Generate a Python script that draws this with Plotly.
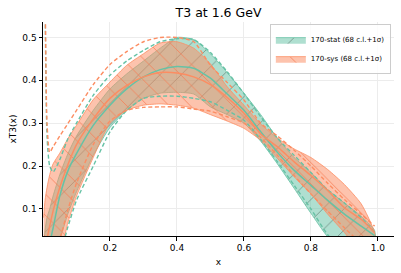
import plotly.graph_objects as go

x = [0.002, 0.006, 0.012, 0.02, 0.03, 0.05, 0.075, 0.1, 0.15, 0.2, 0.25, 0.3, 0.35, 0.4,
     0.45, 0.5, 0.55, 0.6, 0.65, 0.7, 0.75, 0.8, 0.85, 0.9, 0.95, 0.99]

# 170-stat
stat_mid = [0.0, 0.0, 0.0, 0.02, 0.055, 0.13, 0.19, 0.229, 0.295, 0.342, 0.38, 0.408, 0.425, 0.432,
            0.428, 0.405, 0.368, 0.33, 0.28, 0.232, 0.19, 0.155, 0.12, 0.088, 0.06, 0.038]
stat_hi68 = [0.02, 0.05, 0.08, 0.1, 0.13, 0.18, 0.23, 0.27, 0.33, 0.38, 0.415, 0.445, 0.475, 0.5,
             0.495, 0.462, 0.418, 0.37, 0.32, 0.265, 0.22, 0.185, 0.145, 0.114, 0.083, 0.05]
stat_lo68 = [0.0, 0.0, 0.0, 0.0, 0.0, 0.03, 0.09, 0.14, 0.225, 0.29, 0.33, 0.358, 0.37, 0.372,
             0.368, 0.338, 0.32, 0.3, 0.258, 0.205, 0.148, 0.09, 0.035, 0.0, 0.0, 0.0]
stat_up1s = [1.0, 0.6, 0.27, 0.2, 0.186, 0.215, 0.265, 0.3, 0.365, 0.412, 0.445, 0.47, 0.49, 0.497,
             0.495, 0.465, 0.42, 0.369, 0.315, 0.265, 0.225, 0.185, 0.145, 0.114, 0.08, 0.045]
stat_dn1s = [0.0, 0.0, 0.0, 0.0, 0.0, 0.0, 0.06, 0.12, 0.2, 0.28, 0.33, 0.358, 0.363, 0.363,
             0.358, 0.35, 0.33, 0.307, 0.262, 0.21, 0.155, 0.1, 0.04, 0.0, 0.0, 0.0]

# 170-sys
sys_mid = [0.0, 0.0, 0.03, 0.06, 0.095, 0.15, 0.205, 0.25, 0.31, 0.358, 0.388, 0.408, 0.418, 0.417,
           0.408, 0.39, 0.36, 0.323, 0.275, 0.245, 0.21, 0.178, 0.143, 0.103, 0.076, 0.045]
sys_hi68 = [0.08, 0.12, 0.15, 0.18, 0.205, 0.23, 0.265, 0.295, 0.355, 0.396, 0.435, 0.462, 0.487, 0.49,
            0.475, 0.438, 0.385, 0.342, 0.298, 0.265, 0.24, 0.22, 0.192, 0.157, 0.112, 0.045]
sys_lo68 = [0.0, 0.0, 0.0, 0.0, 0.0, 0.0, 0.07, 0.13, 0.22, 0.3, 0.33, 0.342, 0.345, 0.342,
            0.335, 0.32, 0.305, 0.288, 0.26, 0.218, 0.175, 0.135, 0.088, 0.045, 0.0, 0.0]
sys_up1s = [1.0, 0.65, 0.3, 0.232, 0.245, 0.27, 0.3, 0.33, 0.39, 0.437, 0.467, 0.49, 0.5, 0.5,
            0.49, 0.435, 0.395, 0.354, 0.3, 0.27, 0.237, 0.2, 0.16, 0.122, 0.088, 0.06]
sys_dn1s = [0.0, 0.0, 0.0, 0.0, 0.0, 0.03, 0.1, 0.16, 0.25, 0.305, 0.33, 0.337, 0.338, 0.338,
            0.333, 0.328, 0.315, 0.3, 0.267, 0.225, 0.178, 0.135, 0.095, 0.056, 0.02, 0.0]

names = ["170-stat (68 c.l.+1σ)", "170-sys (68 c.l.+1σ)"]
colors = ["#66c2a5", "#fc8d62"]
fills = ["rgba(102,194,165,0.52)", "rgba(252,141,98,0.52)"]
hatch_fg = ["rgba(80,100,90,0.6)", "rgba(245,125,85,0.85)"]
shapes = ["/", "\\"]

sets = [
    (stat_mid, stat_hi68, stat_lo68, stat_up1s, stat_dn1s),
    (sys_mid, sys_hi68, sys_lo68, sys_up1s, sys_dn1s),
]

fig = go.Figure()
for i, (mid, hi, lo, up, dn) in enumerate(sets):
    fig.add_trace(go.Scatter(
        x=x + x[::-1], y=hi + lo[::-1], mode="lines",
        line=dict(color=colors[i], width=0.8, shape="spline", smoothing=0.6),
        fill="toself", fillcolor=fills[i],
        fillpattern=dict(shape=shapes[i], fgcolor=hatch_fg[i], bgcolor=fills[i],
                         size=15, solidity=0.06, fillmode="replace"),
        name=names[i], showlegend=True, hoverinfo="skip"))
for i, (mid, hi, lo, up, dn) in enumerate(sets):
    fig.add_trace(go.Scatter(x=x, y=mid, mode="lines",
                             line=dict(color=colors[i], width=1.5, shape="spline", smoothing=0.6),
                             showlegend=False))
    for arr in (up, dn):
        fig.add_trace(go.Scatter(x=x, y=arr, mode="lines",
                                 line=dict(color=colors[i], width=1.4, dash="4px,2.5px",
                                           shape="spline", smoothing=0.6),
                                 showlegend=False))

fig.update_layout(
    width=401, height=273,
    margin=dict(l=43, r=7, t=22, b=37),
    paper_bgcolor="white", plot_bgcolor="white",
    font=dict(family="DejaVu Sans", size=9, color="black"),
    title=dict(text="T3 at 1.6 GeV", x=0.545, xanchor="center", y=0.955, yanchor="middle",
               font=dict(size=12.5, family="DejaVu Sans")),
    legend=dict(x=0.991, y=0.99, xanchor="right", yanchor="top",
                bgcolor="rgba(255,255,255,0.85)", bordercolor="#cccccc", borderwidth=1,
                font=dict(size=7), itemwidth=30, tracegroupgap=0),
    showlegend=True,
)
fig.update_xaxes(range=[0.0, 1.048], tickvals=[0.2, 0.4, 0.6, 0.8, 1.0],
                 ticktext=["0.2", "0.4", "0.6", "0.8", "1.0"],
                 showline=True, linecolor="black", linewidth=1, ticks="outside", ticklen=3.5,
                 tickcolor="black", showgrid=True, gridcolor="#ececec", gridwidth=0.6,
                 zeroline=False, title=dict(text="x", standoff=6, font=dict(size=9)),
                 tickfont=dict(size=9))
fig.update_yaxes(range=[0.037, 0.536], tickvals=[0.1, 0.2, 0.3, 0.4, 0.5],
                 ticktext=["0.1", "0.2", "0.3", "0.4", "0.5"],
                 showline=True, linecolor="black", linewidth=1, ticks="outside", ticklen=3.5,
                 tickcolor="black", showgrid=True, gridcolor="#ececec", gridwidth=0.6,
                 zeroline=False, title=dict(text="xT3(x)", standoff=4, font=dict(size=9)),
                 tickfont=dict(size=9))

fig.write_html("out.html", config={"displayModeBar": False},
               post_script="document.body.style.margin='0';")
